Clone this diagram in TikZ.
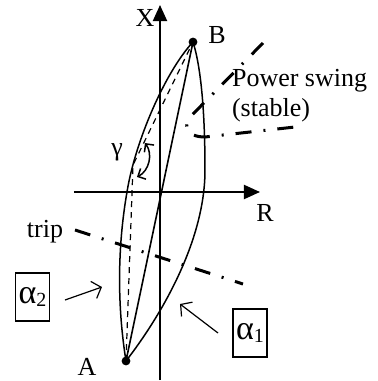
\documentclass[tikz,border=0pt]{standalone}
\usepackage{fontspec}
\setmainfont{Liberation Serif}
\usetikzlibrary{arrows.meta}

\begin{document}
\begin{tikzpicture}[x=5pt,y=5pt,
axis/.style = {line width=1pt,-{Triangle[length=8pt,width=7pt]}},
locus/.style = {line width=0.75pt},
relay/.style = {line width=1.5pt,
        dash pattern=on 8pt off 6pt on 1pt off 6pt},
pointer/.style = {semithick,-{Straight Barb[length=4pt,width=9pt]}},
swing/.style = {line width=0.75pt,
        {Straight Barb[length=3pt,width=6pt]}-{Straight Barb[length=3pt,width=6pt]}},
alphabox/.style = {draw,semithick,minimum width=17pt,minimum height=24pt,
        inner sep=1pt,font=\fontsize{17}{17}\selectfont},
every node/.append style = {font=\fontsize{13}{15}\selectfont}]

        \useasboundingbox (-16,-18.9) rectangle (21.7,19.2);

        % axes
        \coordinate (X0) at ( 0, -18.8 );
        \coordinate (X1) at ( 0, 18.7 );
        \coordinate (R0) at ( -8.6, 0 );
        \coordinate (R1) at ( 10, 0 );
        \draw[axis] (X0) -- (X1);
        \draw[axis] (R0) -- (R1);
        \node (Xlab) at ( -1.5, 17.4 ) {X};
        \node (Rlab) at ( 10.5, -2.1 ) {R};

        % end points
        \coordinate (A) at ( -3.4, -16.9 );
        \coordinate (B) at ( 3.3, 15.0 );
        \coordinate (K) at ( -2.7, 2.7 );
        \coordinate (L) at ( -3.3, 0 );
        \coordinate (M) at ( 4.5, 2.2 );
        \node (Alab) at ( -7.3, -17.5 ) {A};
        \node (Blab) at ( 5.7, 15.7 ) {B};

        \draw[thick] (A) -- (B);
        \draw[line width=0.6pt,dash pattern=on 3pt off 2.5pt] (A) -- (K) -- (B);
        \draw[locus] (A) .. controls (-4.5,-10) and (-4,-4) .. (L)
                .. controls (-2.5,5) and (0.5,12) .. (B);
        \draw[locus] (A) .. controls (0,-12.5) and (4.5,-5) .. (M)
                .. controls (4.5,8) and (4.1,12.5) .. (B);
        \fill (A) circle (2.2pt);
        \fill (B) circle (2.2pt);

        % angle gamma
        \coordinate (G0) at ( -1.5, 4.9 );
        \coordinate (G1) at ( -2.3, 1.5 );
        \draw[swing] (G0) to[bend left=50] (G1);
        \node (Glab) at ( -4.3, 4.0 ) {γ};

        % relay characteristics
        \coordinate (PS0) at ( 10.3, 14.9 );
        \coordinate (PS1) at ( 3.2, 7.7 );
        \coordinate (PS2) at ( 4.5, 5.5 );
        \coordinate (PS3) at ( 13.5, 6.5 );
        \draw[relay] (PS0) -- (PS1) .. controls (2.2,6.7) and (2.6,5.5) .. (PS2) -- (PS3);
        \node[anchor=west,align=left] (PSlab) at ( 6.5, 9.6 ) {Power swing\\(stable)};

        \coordinate (T0) at ( -8.5, -3.8 );
        \coordinate (T1) at ( 8.3, -9.2 );
        \draw[relay] (T0) -- (T1);
        \node (Tlab) at ( -11.5, -4.0 ) {trip};

        % alpha labels
        \node[alphabox] (a2) at ( -12.75, -10.5 )
                {α\raisebox{-1.5pt}{\fontsize{10}{10}\selectfont 2}};
        \coordinate (a2s) at ( -9.5, -10.8 );
        \coordinate (a2e) at ( -5.8, -9.5 );
        \draw[pointer] (a2s) -- (a2e);
        \node[alphabox] (a1) at ( 9, -14.1 )
                {α\raisebox{-1.5pt}{\fontsize{10}{10}\selectfont 1}};
        \coordinate (a1s) at ( 5.8, -14.1 );
        \coordinate (a1e) at ( 2, -11.2 );
        \draw[pointer] (a1s) -- (a1e);

    \end{tikzpicture}
\end{document}
